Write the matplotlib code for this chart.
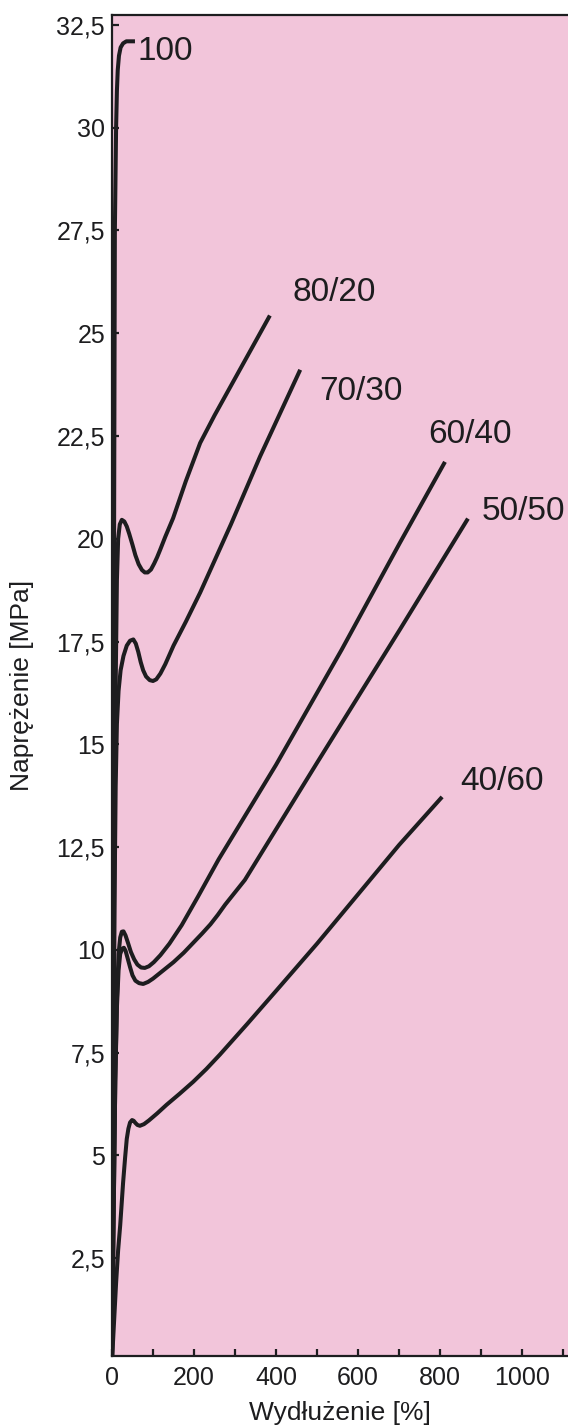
import numpy as np
import matplotlib
matplotlib.use('Agg')
import matplotlib.pyplot as plt
from matplotlib.ticker import MultipleLocator, FuncFormatter

plt.rcParams['font.family'] = ['Liberation Sans', 'DejaVu Sans']

# stress-strain curves: elongation [%] and stress [MPa]
x_100 = [0, 3, 7, 10, 12, 14, 17, 21, 27, 35, 45, 56]
y_100 = [0, 12, 27.5, 30.0, 30.9, 31.4, 31.75, 31.95, 32.05, 32.1, 32.1, 32.1]

x_80_20 = [0, 3, 6, 9, 12, 15, 19, 24, 30, 36, 42, 50, 57, 65, 73, 80, 87, 95, 103, 110,
           117, 130, 149, 180, 215, 250, 300, 385]
y_80_20 = [0, 6, 12, 16.5, 19.0, 20.0, 20.35, 20.46, 20.42, 20.3, 20.12, 19.85, 19.6, 19.38,
           19.24, 19.18, 19.18, 19.25, 19.4, 19.55, 19.72, 20.05, 20.5, 21.4, 22.33, 23.0, 23.9, 25.43]

x_70_30 = [0, 3, 6, 9, 12, 16, 21, 28, 36, 44, 52, 58, 64, 70, 76, 83, 92, 100, 108, 118,
           130, 150, 180, 215, 290, 361, 459]
y_70_30 = [0, 6, 11, 14, 15.5, 16.3, 16.8, 17.15, 17.4, 17.52, 17.55, 17.45, 17.25, 17.0,
           16.8, 16.65, 16.56, 16.54, 16.58, 16.72, 16.95, 17.4, 17.98, 18.69, 20.35, 22.0, 24.11]

x_60_40 = [0, 4, 8, 12, 16, 20, 24, 28, 33, 39, 46, 54, 62, 71, 80, 90, 102, 118, 140, 170,
           210, 260, 400, 560, 702, 812]
y_60_40 = [0, 3.5, 6.8, 8.8, 9.9, 10.3, 10.44, 10.45, 10.35, 10.17, 9.95, 9.77, 9.64, 9.57,
           9.56, 9.6, 9.7, 9.87, 10.15, 10.6, 11.3, 12.2, 14.5, 17.3, 19.9, 21.87]

x_50_50 = [0, 4, 8, 12, 16, 20, 25, 29, 33, 38, 44, 50, 57, 66, 76, 88, 100, 125, 150, 175,
           198, 220, 240, 258, 276, 300, 324, 500, 702, 868]
y_50_50 = [0, 3.5, 6.8, 8.6, 9.5, 9.9, 10.03, 10.05, 9.98, 9.8, 9.58, 9.38, 9.25, 9.19, 9.17,
           9.22, 9.3, 9.5, 9.7, 9.93, 10.17, 10.4, 10.62, 10.85, 11.1, 11.4, 11.7, 14.55, 17.79, 20.49]

x_40_60 = [0, 10, 15, 20, 27, 32, 36, 40, 44, 49, 53, 57, 62, 68, 78, 90, 110, 133, 165, 198,
           230, 263, 330, 400, 500, 600, 700, 805]
y_40_60 = [0, 1.9, 2.7, 3.3, 4.33, 4.95, 5.4, 5.65, 5.8, 5.86, 5.84, 5.79, 5.74, 5.72, 5.76,
           5.85, 6.02, 6.23, 6.5, 6.79, 7.1, 7.45, 8.2, 9.0, 10.15, 11.35, 12.55, 13.72]

series = [
    ('100', x_100, y_100, (63, 31.85)),
    ('80/20', x_80_20, y_80_20, (439, 25.99)),
    ('70/30', x_70_30, y_70_30, (505, 23.58)),
    ('60/40', x_60_40, y_60_40, (771, 22.53)),
    ('50/50', x_50_50, y_50_50, (902, 20.66)),
    ('40/60', x_40_60, y_40_60, (849, 14.09)),
]

y_ticks = np.arange(2.5, 33, 2.5)
x_labels = [0, 200, 400, 600, 800, 1000]

ink = '#1d1d1f'
fig = plt.figure(figsize=(5.68, 14.25), dpi=100)
ax = fig.add_axes([112 / 568, 1 - 1356 / 1425, 1 - 112 / 568, (1356 - 15) / 1425])
ax.set_facecolor('#f2c5da')

for name, xs, ys, pos in series:
    ax.plot(xs, ys, color=ink, lw=2.9, solid_capstyle='butt', solid_joinstyle='round')
    ax.text(pos[0], pos[1], name, fontsize=24, color=ink, ha='left', va='center')

ax.set_xlim(0, 1112)
ax.set_ylim(0.12, 32.74)
ax.set_yticks(y_ticks)
ax.yaxis.set_major_formatter(FuncFormatter(lambda v, p: f'{v:g}'.replace('.', ',')))
ax.set_xticks(x_labels)
ax.xaxis.set_minor_locator(MultipleLocator(100))

ax.tick_params(which='both', direction='in', length=5, width=1.6, color=ink,
               labelsize=18, labelcolor=ink)
ax.tick_params(axis='y', pad=5)
ax.tick_params(axis='x', pad=7)

for side in ['left', 'top', 'bottom']:
    ax.spines[side].set_linewidth(1.6)
    ax.spines[side].set_color(ink)
ax.spines['right'].set_visible(False)

ax.set_xlabel('Wydłużenie [%]', fontsize=19, color=ink, labelpad=8)
ax.set_ylabel('Naprężenie [MPa]', fontsize=19, color=ink, labelpad=16)

fig.savefig('out.png', dpi=100)
